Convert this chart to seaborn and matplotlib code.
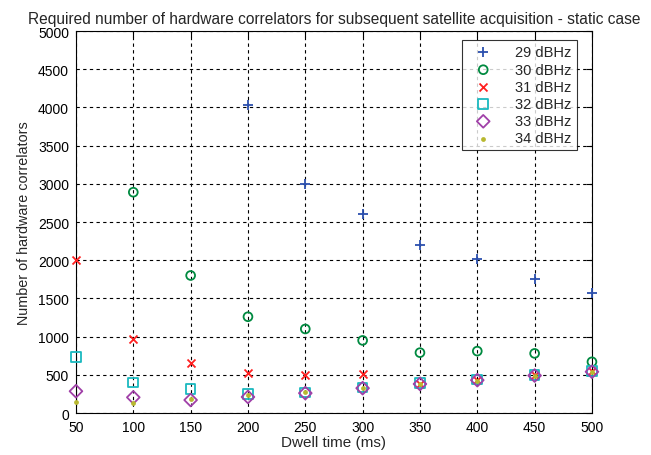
import numpy as np
import pandas as pd
import matplotlib
matplotlib.use("Agg")
import matplotlib.pyplot as plt
import seaborn as sns

dwell = [50, 100, 150, 200, 250, 300, 350, 400, 450, 500]
nan = np.nan
cn29 = [nan, nan, nan, 4030, 3000, 2600, 2200, 2010, 1760, 1570]
cn30 = [nan, 2890, 1800, 1260, 1100, 950, 790, 810, 780, 670]
cn31 = [2000, 975, 650, 530, 500, 510, 385, 435, 495, 545]
cn32 = [730, 400, 310, 245, 270, 335, 390, 440, 500, 550]
cn33 = [285, 205, 170, 210, 260, 325, 380, 430, 490, 540]
cn34 = [150, 130, 180, 230, 275, 330, 375, 425, 485, 535]

labels = ["29 dBHz", "30 dBHz", "31 dBHz", "32 dBHz", "33 dBHz", "34 dBHz"]
series = [cn29, cn30, cn31, cn32, cn33, cn34]
colors = ["#2b4fae", "#008a40", "#ff2020", "#1ab9bf", "#a040a8", "#b8b830"]
markers = ["+", "o", "x", "s", "D", "o"]
sizes = [52, 40, 33, 49, 42, 12]
hollow = [False, True, False, True, True, False]

sns.set_style("white")
plt.rcParams["font.family"] = ["Liberation Sans", "DejaVu Sans"]

fig = plt.figure(figsize=(6.51, 4.56), dpi=100)
ax = fig.add_axes([0.1167, 0.0921, 0.7926, 0.8377])

for lab, vals, c, m, s, h in zip(labels, series, colors, markers, sizes, hollow):
    df = pd.DataFrame({"dwell": dwell, "n": vals}).dropna()
    if h:
        sns.scatterplot(data=df, x="dwell", y="n", marker=m, s=s, facecolors="none",
                        edgecolor=c, linewidth=1.3, label=lab, ax=ax, clip_on=False, zorder=3)
    elif m == "o":
        sns.scatterplot(data=df, x="dwell", y="n", marker=m, s=s, color=c,
                        edgecolor=c, linewidth=0, label=lab, ax=ax, clip_on=False, zorder=3)
    else:
        sns.scatterplot(data=df, x="dwell", y="n", marker=m, s=s, color=c,
                        linewidth=1.3, label=lab, ax=ax, clip_on=False, zorder=3)

ax.set_xlim(50, 500)
ax.set_ylim(0, 5000)
ax.set_xticks(range(50, 501, 50))
ax.set_yticks(range(0, 5001, 500))
ax.grid(True, color="black", linestyle=(0, (3, 3)), linewidth=0.8)
ax.tick_params(direction="in", top=True, right=True, length=4, labelsize=10,
               colors="black", pad=5)
for sp in ax.spines.values():
    sp.set_color("black")
    sp.set_linewidth(0.8)
ax.set_xlabel("Dwell time (ms)", fontsize=11, labelpad=1)
ax.set_ylabel("Number of hardware correlators", fontsize=10.4, labelpad=5)
ax.set_title("Required number of hardware correlators for subsequent satellite acquisition - static case",
             fontsize=11.2, pad=6)

leg = ax.legend(loc="upper right", fontsize=10.5, frameon=True, fancybox=False,
                edgecolor="black", borderaxespad=0.5, handletextpad=1.1,
                labelspacing=0.22, borderpad=0.35, handlelength=2.2,
                bbox_to_anchor=(0.985, 0.995))
leg.get_frame().set_linewidth(0.8)

fig.savefig("out.png", dpi=100, facecolor="white")
